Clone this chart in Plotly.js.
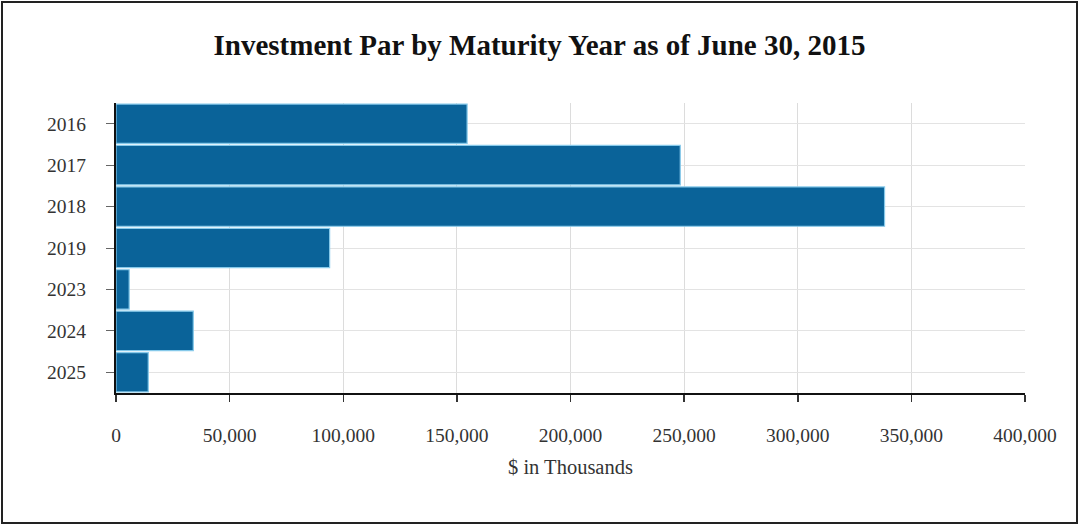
<!DOCTYPE html>
<html>
<head>
<meta charset="utf-8">
<script src="https://cdn.plot.ly/plotly-3.0.1.min.js"></script>
<style>
  html, body { margin: 0; padding: 0; background: #fff; }
  #frame { position: absolute; left: 1px; top: 1px; width: 1073px; height: 519px; border: 2px solid #222; }
  #chart { width: 1073px; height: 519px; }
</style>
</head>
<body>
<div id="frame"><div id="chart"></div></div>
<script>
const years = ["2016", "2017", "2018", "2019", "2023", "2024", "2025"];
const parValues = [154500, 248300, 338200, 94000, 5800, 34000, 14200];
const xTickVals = [0, 50000, 100000, 150000, 200000, 250000, 300000, 350000, 400000];
const xTickText = ["0", "50,000", "100,000", "150,000", "200,000", "250,000", "300,000", "350,000", "400,000"];

const serif = "Liberation Serif, Times New Roman, serif";

Plotly.newPlot("chart", [{
  type: "bar",
  orientation: "h",
  y: years,
  x: parValues,
  marker: { color: "#0a6399", line: { color: "#86c9ea", width: 1.2 } },
  hoverinfo: "x+y"
}], {
  width: 1073, height: 519,
  margin: { l: 113, r: 51, t: 100, b: 129 },
  paper_bgcolor: "#fff",
  plot_bgcolor: "#fff",
  bargap: 0.05,
  showlegend: false,
  title: {
    text: "<b>Investment Par by Maturity Year as of June 30, 2015</b>",
    font: { family: serif, size: 29, color: "#111" },
    x: 0.5, xanchor: "center", y: 0.92, yanchor: "middle"
  },
  xaxis: {
    range: [0, 400000],
    tickvals: xTickVals,
    ticktext: xTickText,
    showgrid: true, gridcolor: "#dcdcdc", gridwidth: 1,
    zeroline: false,
    showline: true, linecolor: "#111", linewidth: 2,
    ticks: "outside", ticklen: 7, tickwidth: 1.5, tickcolor: "#333",
    ticklabelstandoff: 17,
    tickfont: { family: serif, size: 19.5, color: "#333" },
    title: { text: "$ in Thousands", font: { family: serif, size: 20.5, color: "#333" }, standoff: 14 },
    fixedrange: true
  },
  yaxis: {
    type: "category",
    autorange: "reversed",
    showgrid: true, gridcolor: "#e3e3e3", gridwidth: 1,
    showline: true, linecolor: "#111", linewidth: 2,
    ticks: "outside", ticklen: 8, tickwidth: 1, tickcolor: "#666",
    ticklabelstandoff: 16,
    tickfont: { family: serif, size: 19.5, color: "#333" },
    fixedrange: true
  }
}, { displayModeBar: false, staticPlot: true });
</script>
</body>
</html>
